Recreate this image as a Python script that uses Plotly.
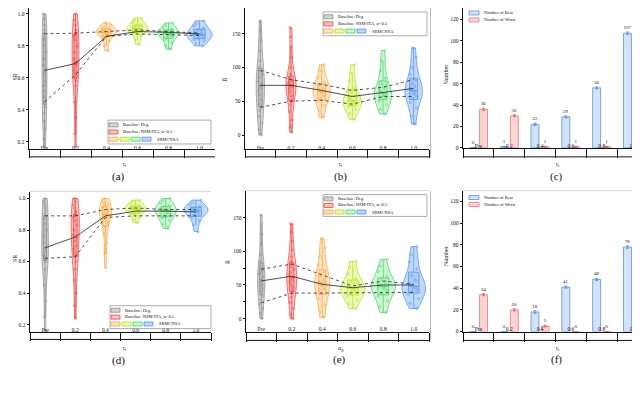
import plotly.graph_objects as go

W, H = 640, 393
categories = ["Pre", "0.2", "0.4", "0.6", "0.8", "1.0"]

# ---------------- (a) SR samples ----------------
a_pre = [1.0, 0.97, 0.93, 0.9, 0.88, 0.87, 0.84, 0.8, 0.76, 0.72, 0.68, 0.65, 0.62, 0.58, 0.55, 0.52, 0.48, 0.45, 0.42, 0.38, 0.33, 0.28, 0.22, 0.17]
a_02 = [1.0, 0.96, 0.93, 0.9, 0.89, 0.88, 0.87, 0.86, 0.84, 0.8, 0.76, 0.72, 0.7, 0.69, 0.68, 0.66, 0.64, 0.62, 0.6, 0.58, 0.55, 0.45, 0.35, 0.25, 0.17]
a_04 = [0.944, 0.93, 0.92, 0.91, 0.905, 0.9, 0.895, 0.89, 0.885, 0.88, 0.875, 0.87, 0.86, 0.85, 0.83, 0.8, 0.77]
a_06 = [0.975, 0.96, 0.945, 0.935, 0.925, 0.92, 0.915, 0.91, 0.905, 0.9, 0.895, 0.89, 0.88, 0.865, 0.84, 0.81]
a_08 = [0.944, 0.93, 0.915, 0.905, 0.895, 0.89, 0.885, 0.88, 0.875, 0.87, 0.865, 0.855, 0.84, 0.82, 0.8, 0.78]
a_10 = [0.957, 0.94, 0.925, 0.91, 0.9, 0.89, 0.88, 0.875, 0.87, 0.865, 0.86, 0.85, 0.84, 0.83, 0.815, 0.80]
a_q3 = [0.876, 0.88, 0.89, 0.9, 0.89, 0.88]
a_med = [0.647, 0.69, 0.86, 0.89, 0.885, 0.875]
a_q1 = [0.45, 0.62, 0.86, 0.875, 0.87, 0.865]

# ---------------- (b) R samples ----------------
b_pre = [169, 155, 140, 125, 110, 100, 95, 90, 85, 80, 76, 73, 70, 66, 60, 52, 45, 41, 36, 28, 18, 8, 0]
b_02 = [159, 145, 130, 115, 100, 90, 84, 82, 80, 78, 76, 74, 73, 71, 68, 64, 58, 52, 50, 45, 35, 22, 12, 4]
b_04 = [104, 95, 85, 78, 74, 70, 68, 66, 64, 62, 58, 54, 50, 44, 36, 26]
b_06 = [104, 92, 80, 70, 63, 58, 55, 52, 50, 48, 46, 44, 42, 38, 32, 23]
b_08 = [125, 110, 95, 84, 76, 70, 66, 63, 60, 58, 56, 54, 50, 45, 38, 31]
b_10 = [129, 115, 100, 90, 82, 76, 72, 69, 66, 64, 61, 58, 54, 48, 40, 28, 16]
b_q3 = [95.6, 82, 75, 66, 70.6, 82]
b_med = [73.5, 73.5, 66, 57, 63, 69]
b_q1 = [41, 50, 51.5, 45.6, 57, 57]

# ---------------- (c) counts ----------------
c_best = [0, 1, 22, 29, 56, 107]
c_worst = [36, 30, 1, 1, 1, 0]
c_best_err = [0, 0, 1.2, 1.0, 1.0, 1.2]
c_worst_err = [1.0, 1.0, 0.5, 0.5, 0.5, 0]

# ---------------- (d) SR samples ----------------
d_pre = [1.0, 0.98, 0.96, 0.94, 0.92, 0.9, 0.89, 0.87, 0.84, 0.8, 0.76, 0.72, 0.69, 0.68, 0.66, 0.64, 0.63, 0.62, 0.61, 0.6, 0.55, 0.45, 0.35, 0.25, 0.16]
d_02 = [1.0, 0.98, 0.96, 0.94, 0.92, 0.91, 0.9, 0.89, 0.88, 0.86, 0.83, 0.8, 0.77, 0.75, 0.73, 0.7, 0.68, 0.66, 0.64, 0.63, 0.6, 0.55, 0.48, 0.4, 0.32, 0.24]
d_04 = [1.0, 0.98, 0.97, 0.96, 0.95, 0.94, 0.93, 0.92, 0.91, 0.9, 0.89, 0.88, 0.87, 0.85, 0.82, 0.78, 0.72, 0.65, 0.56]
d_06 = [0.99, 0.98, 0.965, 0.955, 0.95, 0.945, 0.94, 0.935, 0.93, 0.925, 0.92, 0.91, 0.9, 0.885, 0.865, 0.845]
d_08 = [1.0, 0.985, 0.97, 0.955, 0.945, 0.935, 0.93, 0.925, 0.92, 0.91, 0.9, 0.89, 0.875, 0.86, 0.84, 0.81]
d_10 = [0.99, 0.975, 0.96, 0.95, 0.94, 0.935, 0.93, 0.925, 0.92, 0.915, 0.905, 0.895, 0.88, 0.86, 0.83, 0.79]
d_q3 = [0.89, 0.89, 0.93, 0.94, 0.93, 0.93]
d_med = [0.687, 0.756, 0.89, 0.92, 0.92, 0.915]
d_q1 = [0.62, 0.63, 0.88, 0.89, 0.89, 0.89]

# ---------------- (e) R samples ----------------
e_pre = [154, 140, 125, 110, 95, 85, 76, 73, 70, 66, 62, 58, 56, 54, 50, 45, 40, 34, 28, 22, 15, 8, 0]
e_02 = [141, 128, 115, 102, 92, 85, 81, 77, 73, 69, 65, 62, 60, 58, 55, 51, 47, 43, 38, 32, 24, 15, 6, 0]
e_04 = [119, 105, 92, 80, 70, 63, 58, 55, 53, 51, 48, 44, 38, 30, 20, 10, 2]
e_06 = [85, 76, 67, 60, 55, 51, 48, 46, 44, 42, 40, 37, 33, 28, 22, 15]
e_08 = [88, 78, 70, 63, 58, 54, 51, 49, 47, 45, 42, 38, 33, 26, 18, 9]
e_10 = [107, 95, 84, 74, 64, 57, 52, 49, 47, 45, 43, 40, 36, 30, 23, 15]
e_q3 = [73.5, 81, 65, 48.5, 56, 51]
e_med = [56, 63, 51, 46, 50, 50]
e_q1 = [23.5, 38, 38, 38, 39, 39]

# ---------------- (f) counts ----------------
f_best = [0, 0, 18, 41, 48, 78]
f_worst = [34, 20, 5, 0, 0, 0]
f_best_err = [0, 0, 1.2, 1.0, 1.0, 1.2]
f_worst_err = [1.0, 1.0, 0.8, 0, 0, 0]

# ---------------- styles ----------------
FONT = "Liberation Serif"
line_colors = ["#8a8a8a", "#e8413c", "#f3a545", "#b3dc1c", "#45cf68", "#4a8ff0"]
fill_colors = ["rgba(175,175,175,0.55)", "rgba(245,140,140,0.5)", "rgba(252,210,150,0.6)",
               "rgba(220,245,130,0.6)", "rgba(170,238,180,0.6)", "rgba(160,195,245,0.65)"]

def px(x):
    return x / W

def py(y):
    return 1 - y / H

# panel geometry in pixels: (x0, x1, ytop, ybottom, boxbottom)
geo = {
    1: (21, 207, 0, 142, 150),
    2: (237, 421, 0, 142, 150),
    3: (455, 640, 0, 141, 150),
    4: (22, 203, 185, 326, 334),
    5: (238, 421, 184, 326, 335),
    6: (455, 640, 184, 326, 335),
}
yranges = {1: [0.1566, 1.037], 2: [-20.6, 188], 3: [0, 130.5],
           4: [0.156, 1.044], 5: [-19, 190], 6: [0, 130]}
ytickv = {1: [0.2, 0.4, 0.6, 0.8, 1.0], 2: [0, 50, 100, 150], 3: [0, 20, 40, 60, 80, 100, 120],
          4: [0.2, 0.4, 0.6, 0.8, 1.0], 5: [0, 50, 100, 150], 6: [0, 20, 40, 60, 80, 100, 120]}
ytickt = {1: ["0.2", "0.4", "0.6", "0.8", "1.0"], 2: ["0", "50", "100", "150"],
          3: [str(v) for v in ytickv[3]], 4: ["0.2", "0.4", "0.6", "0.8", "1.0"],
          5: ["0", "50", "100", "150"], 6: [str(v) for v in ytickv[6]]}
yminor = {5: [25, 75]}

violin_sets = {
    1: ([a_pre, a_02, a_04, a_06, a_08, a_10], [0.16, 0.22, 0.65, 0.7, 0.7, 0.82], (a_q3, a_med, a_q1)),
    2: ([b_pre, b_02, b_04, b_06, b_08, b_10], [0.27, 0.33, 0.57, 0.6, 0.57, 0.57], (b_q3, b_med, b_q1)),
    4: ([d_pre, d_02, d_04, d_06, d_08, d_10], [0.22, 0.27, 0.4, 0.7, 0.7, 0.8], (d_q3, d_med, d_q1)),
    5: ([e_pre, e_02, e_04, e_06, e_08, e_10], [0.24, 0.33, 0.5, 0.8, 0.8, 0.77], (e_q3, e_med, e_q1)),
}
bar_sets = {3: (c_best, c_worst, c_best_err, c_worst_err), 6: (f_best, f_worst, f_best_err, f_worst_err)}

fig = go.Figure()

def axref(i):
    return ("x" if i == 1 else f"x{i}"), ("y" if i == 1 else f"y{i}")

for i, (samples, widths, lines) in violin_sets.items():
    xr, yr = axref(i)
    for k, s in enumerate(samples):
        fig.add_trace(go.Violin(
            x=[categories[k]] * len(s), y=s, xaxis=xr, yaxis=yr,
            width=widths[k], spanmode="hard", scalemode="width",
            line=dict(color=line_colors[k], width=0.7), fillcolor=fill_colors[k],
            box=dict(visible=True, width=0.45, fillcolor=fill_colors[k],
                     line=dict(color=line_colors[k], width=0.7)),
            meanline=dict(visible=False), points="all", jitter=0.55, pointpos=0,
            marker=dict(size=2.2, symbol="circle-open", color=line_colors[k],
                        line=dict(width=0.5)),
            showlegend=False, hoverinfo="skip"))
    dashes = ["dot", "solid", "dot"]
    for arr, d in zip(lines, dashes):
        fig.add_trace(go.Scatter(x=categories, y=arr, xaxis=xr, yaxis=yr, mode="lines",
                                 line=dict(color="#222222", width=0.8, dash=d),
                                 showlegend=False, hoverinfo="skip"))

for i, (best, worst, be, we) in bar_sets.items():
    xr, yr = axref(i)
    fig.add_trace(go.Bar(x=categories, y=best, xaxis=xr, yaxis=yr,
                         marker=dict(color="#d3e3f6", line=dict(color="#5a8fdd", width=0.8)),
                         error_y=dict(type="data", array=be, thickness=0.6, width=1.5, color="#3a6fc0"),
                         text=[str(v) for v in best], textposition="outside",
                         textfont=dict(size=5, family=FONT, color="#111"),
                         cliponaxis=False, showlegend=False, hoverinfo="skip"))
    fig.add_trace(go.Bar(x=categories, y=worst, xaxis=xr, yaxis=yr,
                         marker=dict(color="#fbd3d3", line=dict(color="#ea7a7a", width=0.8)),
                         error_y=dict(type="data", array=we, thickness=0.6, width=1.5, color="#c84040"),
                         text=[str(v) for v in worst], textposition="outside",
                         textfont=dict(size=5, family=FONT, color="#111"),
                         cliponaxis=False, showlegend=False, hoverinfo="skip"))

layout = dict(width=W, height=H, margin=dict(l=0, r=0, t=0, b=0),
              paper_bgcolor="white", plot_bgcolor="white",
              violinmode="overlay", barmode="group", bargap=0.34, bargroupgap=0.22,
              font=dict(family=FONT, size=5.5, color="#111"))

shapes = []
annotations = []
for i, (x0, x1, yt, yb, bb) in geo.items():
    xk = "xaxis" if i == 1 else f"xaxis{i}"
    yk = "yaxis" if i == 1 else f"yaxis{i}"
    xr, yr = axref(i)
    layout[xk] = dict(domain=[px(x0), px(x1)], anchor=yr, type="category",
                      categoryorder="array", categoryarray=categories,
                      range=[-0.5, 5.5], showline=True, linecolor="#111", linewidth=1,
                      ticks="outside", ticklen=bb - yb, tickson="boundaries",
                      tickcolor="#111", tickwidth=1, ticklabelstandoff=-(bb - yb) + 1,
                      tickfont=dict(size=5.5, family=FONT), showgrid=False, zeroline=False)
    ydict = dict(domain=[py(yb), py(yt)], anchor=xr, range=yranges[i],
                 showline=True, linecolor="#111", linewidth=1, ticks="outside",
                 ticklen=2.5, tickwidth=0.6, tickcolor="#111",
                 tickvals=ytickv[i], ticktext=ytickt[i],
                 tickfont=dict(size=5.5, family=FONT), showgrid=False, zeroline=False)
    if i in yminor:
        ydict["minor"] = dict(tickvals=yminor[i], ticks="outside", ticklen=2,
                              tickcolor="#111", tickwidth=0.6, showgrid=False)
    layout[yk] = ydict
    # bottom line of the category box
    shapes.append(dict(type="line", xref="paper", yref="paper", x0=px(x0), x1=px(x1),
                       y0=py(bb), y1=py(bb), line=dict(color="#111", width=1)))
    # light top frame
    if yt > 0:
        shapes.append(dict(type="line", xref="paper", yref="paper", x0=px(x0), x1=px(x1),
                           y0=py(yt), y1=py(yt), line=dict(color="#cccccc", width=0.8)))

# right frame line of (b)/(e)
shapes.append(dict(type="line", xref="paper", yref="paper", x0=px(422.5), x1=px(422.5),
                   y0=py(0), y1=py(150), line=dict(color="#aaaaaa", width=0.8)))
shapes.append(dict(type="line", xref="paper", yref="paper", x0=px(422.5), x1=px(422.5),
                   y0=py(184), y1=py(335), line=dict(color="#aaaaaa", width=0.8)))

def txt(x, y, s, size=5, anchor="left", angle=0, yanchor="middle"):
    annotations.append(dict(x=px(x), y=py(y), xref="paper", yref="paper", text=s,
                            showarrow=False, xanchor=anchor, yanchor=yanchor, textangle=angle,
                            font=dict(size=size, family=FONT, color="#111")))

def rect(x0, y0, x1, y1, fill, line):
    shapes.append(dict(type="rect", xref="paper", yref="paper", x0=px(x0), x1=px(x1),
                       y0=py(y1), y1=py(y0), fillcolor=fill, line=dict(color=line, width=0.8)))

legend_texts = ["Baseline: Deg", "Baseline: NSM-ITA, α=0.5", "SRMCNSA"]

def violin_legend(x0, y0, x1, y1):
    rect(x0, y0, x1, y1, "white", "#999999")
    rows = [y0 + (y1 - y0) * f for f in (0.2, 0.5, 0.8)]
    rect(x0 + 1, rows[0] - 2, x0 + 10, rows[0] + 2, fill_colors[0], line_colors[0])
    txt(x0 + 13, rows[0], legend_texts[0], size=4.5)
    rect(x0 + 1, rows[1] - 2, x0 + 10, rows[1] + 2, fill_colors[1], line_colors[1])
    txt(x0 + 13, rows[1], legend_texts[1], size=4.5)
    for k in range(4):
        rect(x0 + 1 + 11 * k, rows[2] - 2, x0 + 10 + 11 * k, rows[2] + 2,
             fill_colors[2 + k], line_colors[2 + k])
    txt(x0 + 47, rows[2], legend_texts[2], size=4.5)

violin_legend(100, 113, 203, 137)
violin_legend(315, 4, 419, 28)
violin_legend(102, 300, 203, 323)
violin_legend(315, 188, 419, 210)

def bar_legend(x0, y0):
    rect(x0, y0 - 2, x0 + 10, y0 + 2, "#d3e3f6", "#5a8fdd")
    txt(x0 + 13, y0, "Number of Best", size=4.5)
    rect(x0, y0 + 5, x0 + 10, y0 + 9, "#fbd3d3", "#ea7a7a")
    txt(x0 + 13, y0 + 7, "Number of Worst", size=4.5)

bar_legend(461, 5)
bar_legend(461, 191)

# axis titles
for (x, y, s) in [(117, 158, "r<sub>t</sub>"), (333, 158, "r<sub>t</sub>"), (550, 158, "r<sub>t</sub>"),
                  (117, 343, "r<sub>t</sub>"), (333, 343, "α<sub>g</sub>"), (550, 343, "r<sub>t</sub>")]:
    txt(x, y, s, size=6, anchor="center")
for (x, y, s) in [(7, 70, "SR"), (217, 72, "R̄"), (438, 67, "Number"),
                  (7, 253, "SR"), (220, 256, "R̄"), (438, 250, "Number")]:
    txt(x, y, s, size=6, anchor="center", angle=-90)

# panel captions
for (x, y, s) in [(110, 170, "(a)"), (332, 170, "(b)"), (548, 170, "(c)"),
                  (110, 355, "(d)"), (331, 354, "(e)"), (548, 354, "(f)")]:
    txt(x, y, s, size=11, anchor="center")

# figure caption (cut by the bottom edge, as in the reference)
for (x, s) in [(0, "Fig. 4."), (85, "Simulation"), (180, "statistics"), (268, "results:"),
               (343, "(a)-(c)"), (403, "and"), (443, "(d)-(f)"), (505, "show"), (556, "the"),
               (616, "of")]:
    txt(x, 384, s, size=15, anchor="left", yanchor="top")

layout["shapes"] = shapes
layout["annotations"] = annotations
fig.update_layout(**layout)
fig.write_html("out.html")
